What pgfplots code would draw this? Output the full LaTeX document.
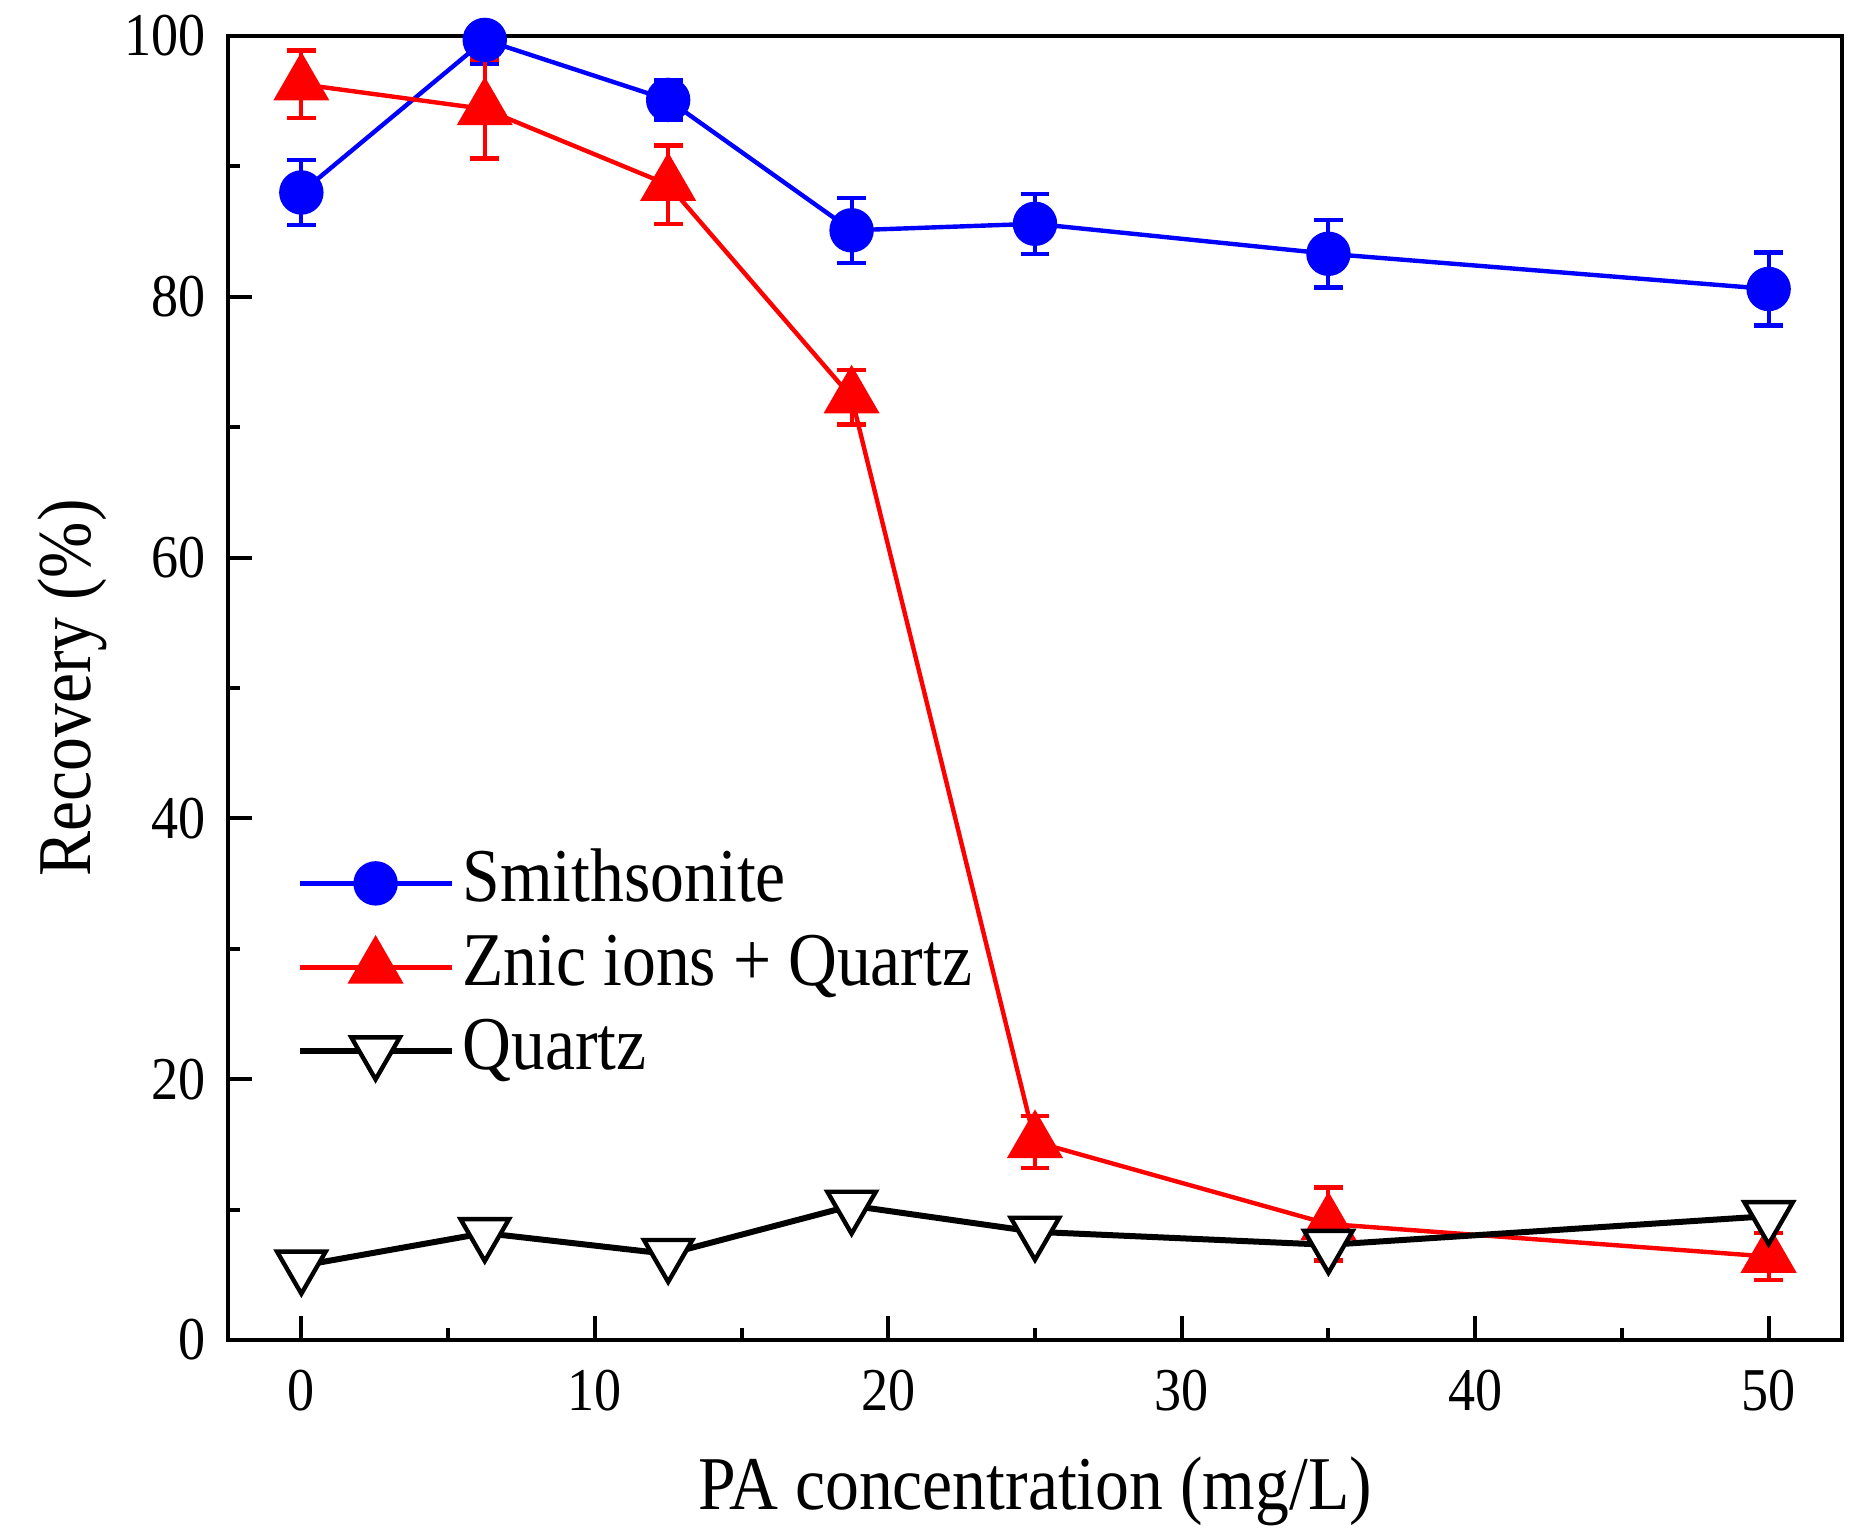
\documentclass[border=0pt]{standalone}
\usepackage{fontspec}
\setmainfont[FakeStretch=0.89]{Liberation Serif}
\usepackage{pgfplots}
\pgfplotsset{compat=1.18}

\definecolor{smblue}{RGB}{0,0,255}
\definecolor{znred}{RGB}{255,0,0}

\begin{document}
\begin{tikzpicture}
\path[use as bounding box] (-57pt,-49pt) rectangle (411.5pt,335pt);
\begin{axis}[
    scale only axis,
    width=403.5pt, height=326pt,
    xmin=-2.5, xmax=52.5,
    ymin=0, ymax=100,
    xtick={0,10,...,50},
    ytick={0,20,...,100},
    minor x tick num=1,
    minor y tick num=1,
    tick align=inside,
    xtick pos=bottom, ytick pos=left,
    major tick length=6pt,
    minor tick length=3pt,
    every tick/.style={black, line width=1pt},
    axis line style={line width=1.2pt},
    /pgf/number format/assume math mode=true,
    tick label style={font=\fontsize{15.2}{18}\selectfont},
    xticklabel shift=4pt,
    yticklabel shift=2pt,
    label style={font=\fontsize{19}{22}\selectfont},
    xlabel={PA concentration (mg/L)},
    ylabel={Recovery (\%)},
    xlabel style={at={(axis description cs:0.5,-0.079)}, anchor=north},
    ylabel style={at={(axis description cs:-0.066,0.5)}, anchor=south},
    legend style={
        at={(rel axis cs:0.042,0.383)}, anchor=north west,
        draw=none, fill=none, inner sep=0pt,
        font=\fontsize{19}{22}\selectfont,
        nodes={text height=13pt, text depth=4pt, inner ysep=2pt, inner xsep=2pt},
        cells={anchor=west},
    },
    legend image code/.code={
        \draw[mark repeat=2, mark phase=2] plot coordinates {(0pt,0pt) (19pt,0pt) (38pt,0pt)};
    },
    error bars/y dir=both,
    error bars/y explicit,
    error bars/error mark=|,
]

\addplot[smblue, line width=1.1pt, mark=*, mark size=5pt,
    mark options={solid, fill=smblue, draw=smblue},
    error bars/error bar style={line width=1pt, smblue},
    error bars/error mark options={line width=1.1pt, mark size=3.6pt, smblue}]
coordinates {
    (0,88.0) +- (0,2.5)
    (6.25,99.7) +- (0,1.8)
    (12.5,95.1) +- (0,1.5)
    (18.75,85.1) +- (0,2.5)
    (25,85.6) +- (0,2.3)
    (35,83.3) +- (0,2.6)
    (50,80.6) +- (0,2.8)
};
\addlegendentry{Smithsonite}

\addplot[znred, line width=1.1pt, mark=triangle*, mark size=7pt,
    mark options={solid, fill=znred, draw=znred},
    error bars/error bar style={line width=1pt, znred},
    error bars/error mark options={line width=1.1pt, mark size=3.6pt, znred}]
coordinates {
    (0,96.3) +- (0,2.6)
    (6.25,94.4) +- (0,3.8)
    (12.5,88.6) +- (0,3.0)
    (18.75,72.3) +- (0,2.1)
    (25,15.2) +- (0,2.0)
    (35,8.9) +- (0,2.8)
    (50,6.4) +- (0,1.8)
};
\addlegendentry{Znic ions + Quartz}

\addplot[black, line width=1.5pt, mark=triangle*, mark size=7pt,
    mark options={solid, rotate=180, fill=white, draw=black, line width=1.1pt},
    forget plot]
coordinates {
    (0,5.7) (6.25,8.2) (12.5,6.6) (18.75,10.3) (25,8.3) (35,7.3) (50,9.5)
};
\addlegendimage{black, line width=1.5pt, mark=triangle*, mark size=7pt,
    mark options={solid, rotate=180, fill=white, draw=black, line width=1.1pt}}
\addlegendentry{Quartz}

\end{axis}
\end{tikzpicture}
\end{document}
